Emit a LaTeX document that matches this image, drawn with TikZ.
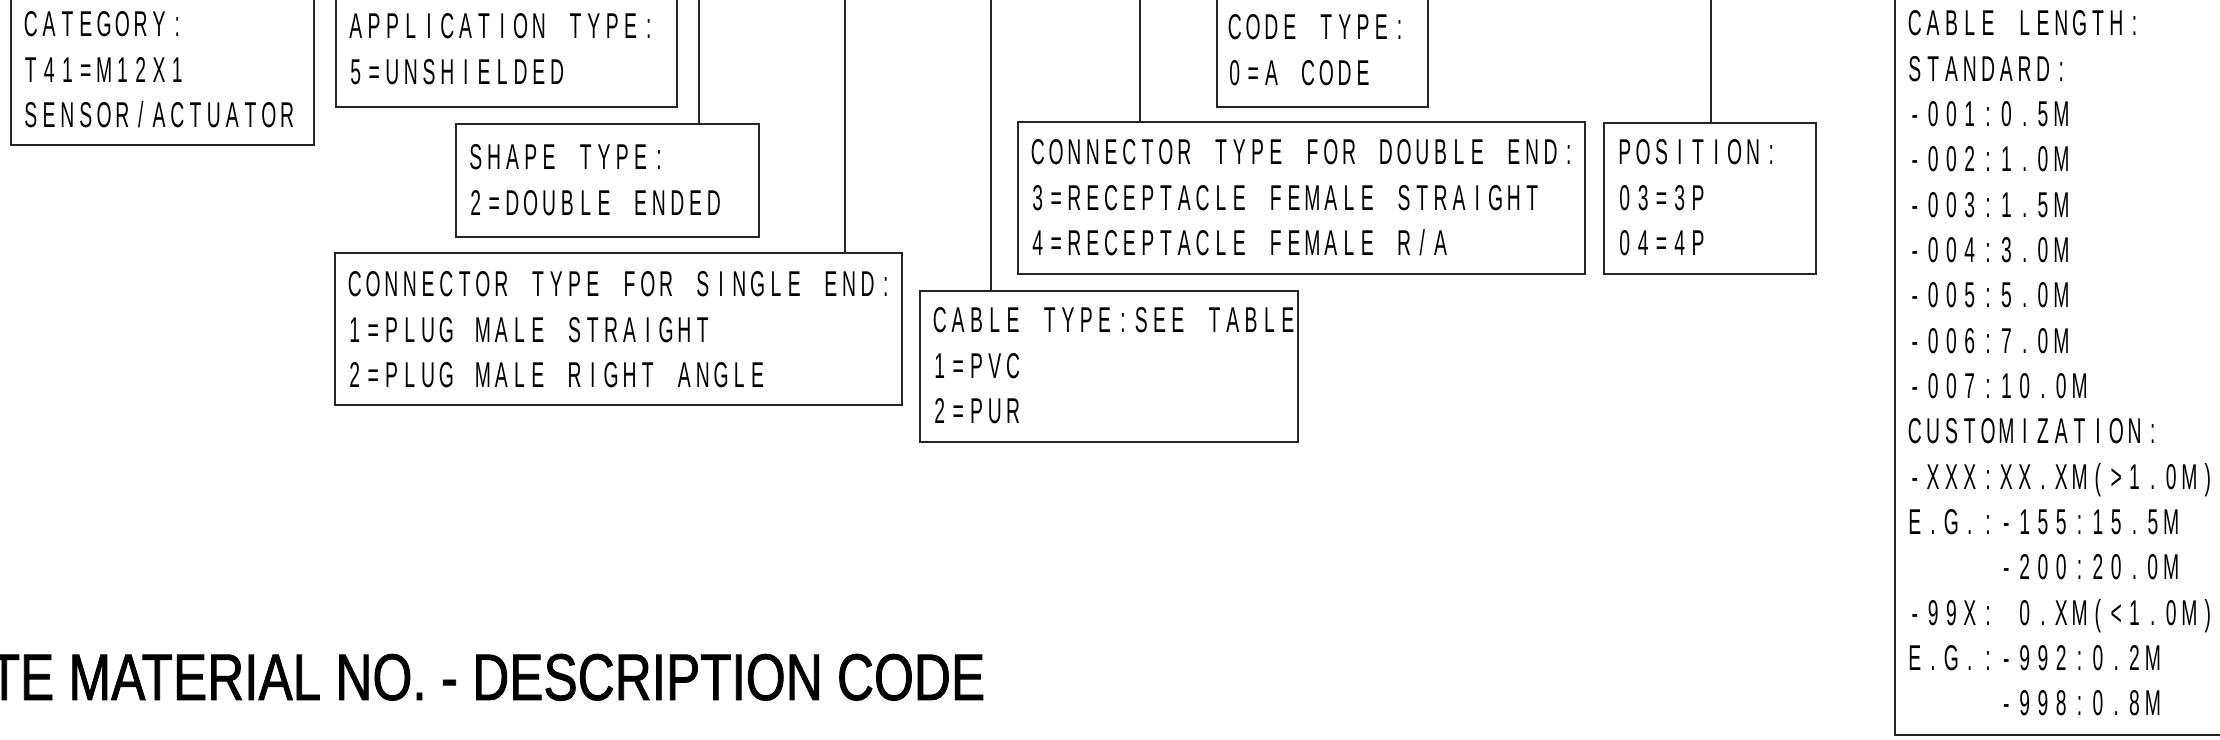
\documentclass[tikz,border=0pt]{standalone}
\usepackage{fontspec}
\newfontfamily\cadfont[FakeStretch=0.54]{Liberation Sans}
\newfontfamily\ttlfont[FakeStretch=0.78,FakeBold=1.3]{Liberation Sans}
\ExplSyntaxOn
\dim_new:N \l_cad_pitch_dim
\dim_set:Nn \l_cad_pitch_dim {0.183cm}
\cs_new_protected:Npn \cad_line:n #1
  { \str_map_inline:nn {#1} { \hbox_to_wd:nn { \l_cad_pitch_dim } { \hfil ##1 \hfil } } }
\NewDocumentCommand \cadtxt { m } { \exp_args:No \cad_line:n {#1} }
\ExplSyntaxOff
\begin{document}
\begin{tikzpicture}[x=0.01cm, y=-0.01cm,
  box/.style={draw=black!85, line width=0.6pt, anchor=north west, inner sep=0pt, outer sep=0pt},
  txt/.style={anchor=base west, inner sep=0pt, font=\cadfont\fontsize{10.2}{12}\selectfont},
  lead/.style={draw=black!85, line width=0.6pt},
  ttl/.style={anchor=base west, inner sep=0pt, font=\ttlfont\fontsize{18.7}{22}\selectfont}]
\useasboundingbox (0,0) rectangle (2220,740);

% boxes
\node[box, minimum width=3.03cm, minimum height=1.55cm] (cat) at (11,-10) {};
\node[box, minimum width=3.41cm, minimum height=1.17cm] (app) at (336,-10) {};
\node[box, minimum width=3.03cm, minimum height=1.13cm] (shape) at (456,124) {};
\node[box, minimum width=5.67cm, minimum height=1.52cm] (single) at (335,253) {};
\node[box, minimum width=3.78cm, minimum height=1.51cm] (ctype) at (920,291) {};
\node[box, minimum width=2.11cm, minimum height=1.17cm] (code) at (1217,-10) {};
\node[box, minimum width=5.67cm, minimum height=1.52cm] (dbl) at (1018,122) {};
\node[box, minimum width=2.12cm, minimum height=1.51cm] (pos) at (1604,123) {};
\node[box, minimum width=3.45cm, minimum height=7.45cm] (len) at (1895,-10) {};

% leader lines
\coordinate (l1) at (699,-10);
\coordinate (l2) at (845,-10);
\coordinate (l3) at (991,-10);
\coordinate (l4) at (1140,-10);
\coordinate (l5) at (1711,-10);
\draw[lead] (l1) -- (l1 |- shape.north);
\draw[lead] (l2) -- (l2 |- single.north);
\draw[lead] (l3) -- (l3 |- ctype.north);
\draw[lead] (l4) -- (l4 |- dbl.north);
\draw[lead] (l5) -- (l5 |- pos.north);

% texts
\foreach \s [count=\i from 0] in {CATEGORY:, T41=M12X1, SENSOR/ACTUATOR}
  \node[txt] (cat-\i) at (21, {37+45.4*\i}) {\cadtxt{\s}};
\foreach \s [count=\i from 0] in {APPLICATION TYPE:, 5=UNSHIELDED}
  \node[txt] (app-\i) at (346, {39+45.4*\i}) {\cadtxt{\s}};
\foreach \s [count=\i from 0] in {SHAPE TYPE:, 2=DOUBLE ENDED}
  \node[txt] (shape-\i) at (466, {170+45.4*\i}) {\cadtxt{\s}};
\foreach \s [count=\i from 0] in {CONNECTOR TYPE FOR SINGLE END:, 1=PLUG MALE STRAIGHT, 2=PLUG MALE RIGHT ANGLE}
  \node[txt] (single-\i) at (345, {297+45.4*\i}) {\cadtxt{\s}};
\foreach \s [count=\i from 0] in {CABLE TYPE:SEE TABLE, 1=PVC, 2=PUR}
  \node[txt] (ctype-\i) at (930, {333+45.4*\i}) {\cadtxt{\s}};
\foreach \s [count=\i from 0] in {CODE TYPE:, 0=A CODE}
  \node[txt] (code-\i) at (1225, {40+45.4*\i}) {\cadtxt{\s}};
\foreach \s [count=\i from 0] in {CONNECTOR TYPE FOR DOUBLE END:, 3=RECEPTACLE FEMALE STRAIGHT, 4=RECEPTACLE FEMALE R/A}
  \node[txt] (dbl-\i) at (1028, {165+45.4*\i}) {\cadtxt{\s}};
\foreach \s [count=\i from 0] in {POSITION:, 03=3P, 04=4P}
  \node[txt] (pos-\i) at (1615, {165+45.4*\i}) {\cadtxt{\s}};
\foreach \n/\s [count=\i from 0] in {0/CABLE LENGTH:, 0/STANDARD:, 0/-001:0.5M, 0/-002:1.0M, 0/-003:1.5M, 0/-004:3.0M, 0/-005:5.0M, 0/-006:7.0M, 0/-007:10.0M, 0/CUSTOMIZATION:, 0/-XXX:XX.XM(>1.0M), 0/E.G.:-155:15.5M, 5/-200:20.0M, 0/-99X: 0.XM(<1.0M), 0/E.G.:-992:0.2M, 5/-998:0.8M}
  \node[txt] (len-\i) at ({1905+18.3*\n}, {36+45.33*\i}) {\cadtxt{\s}};

% title
\node[ttl] (title) at (-12,700) {TE MATERIAL NO. - DESCRIPTION CODE};
\end{tikzpicture}
\end{document}
